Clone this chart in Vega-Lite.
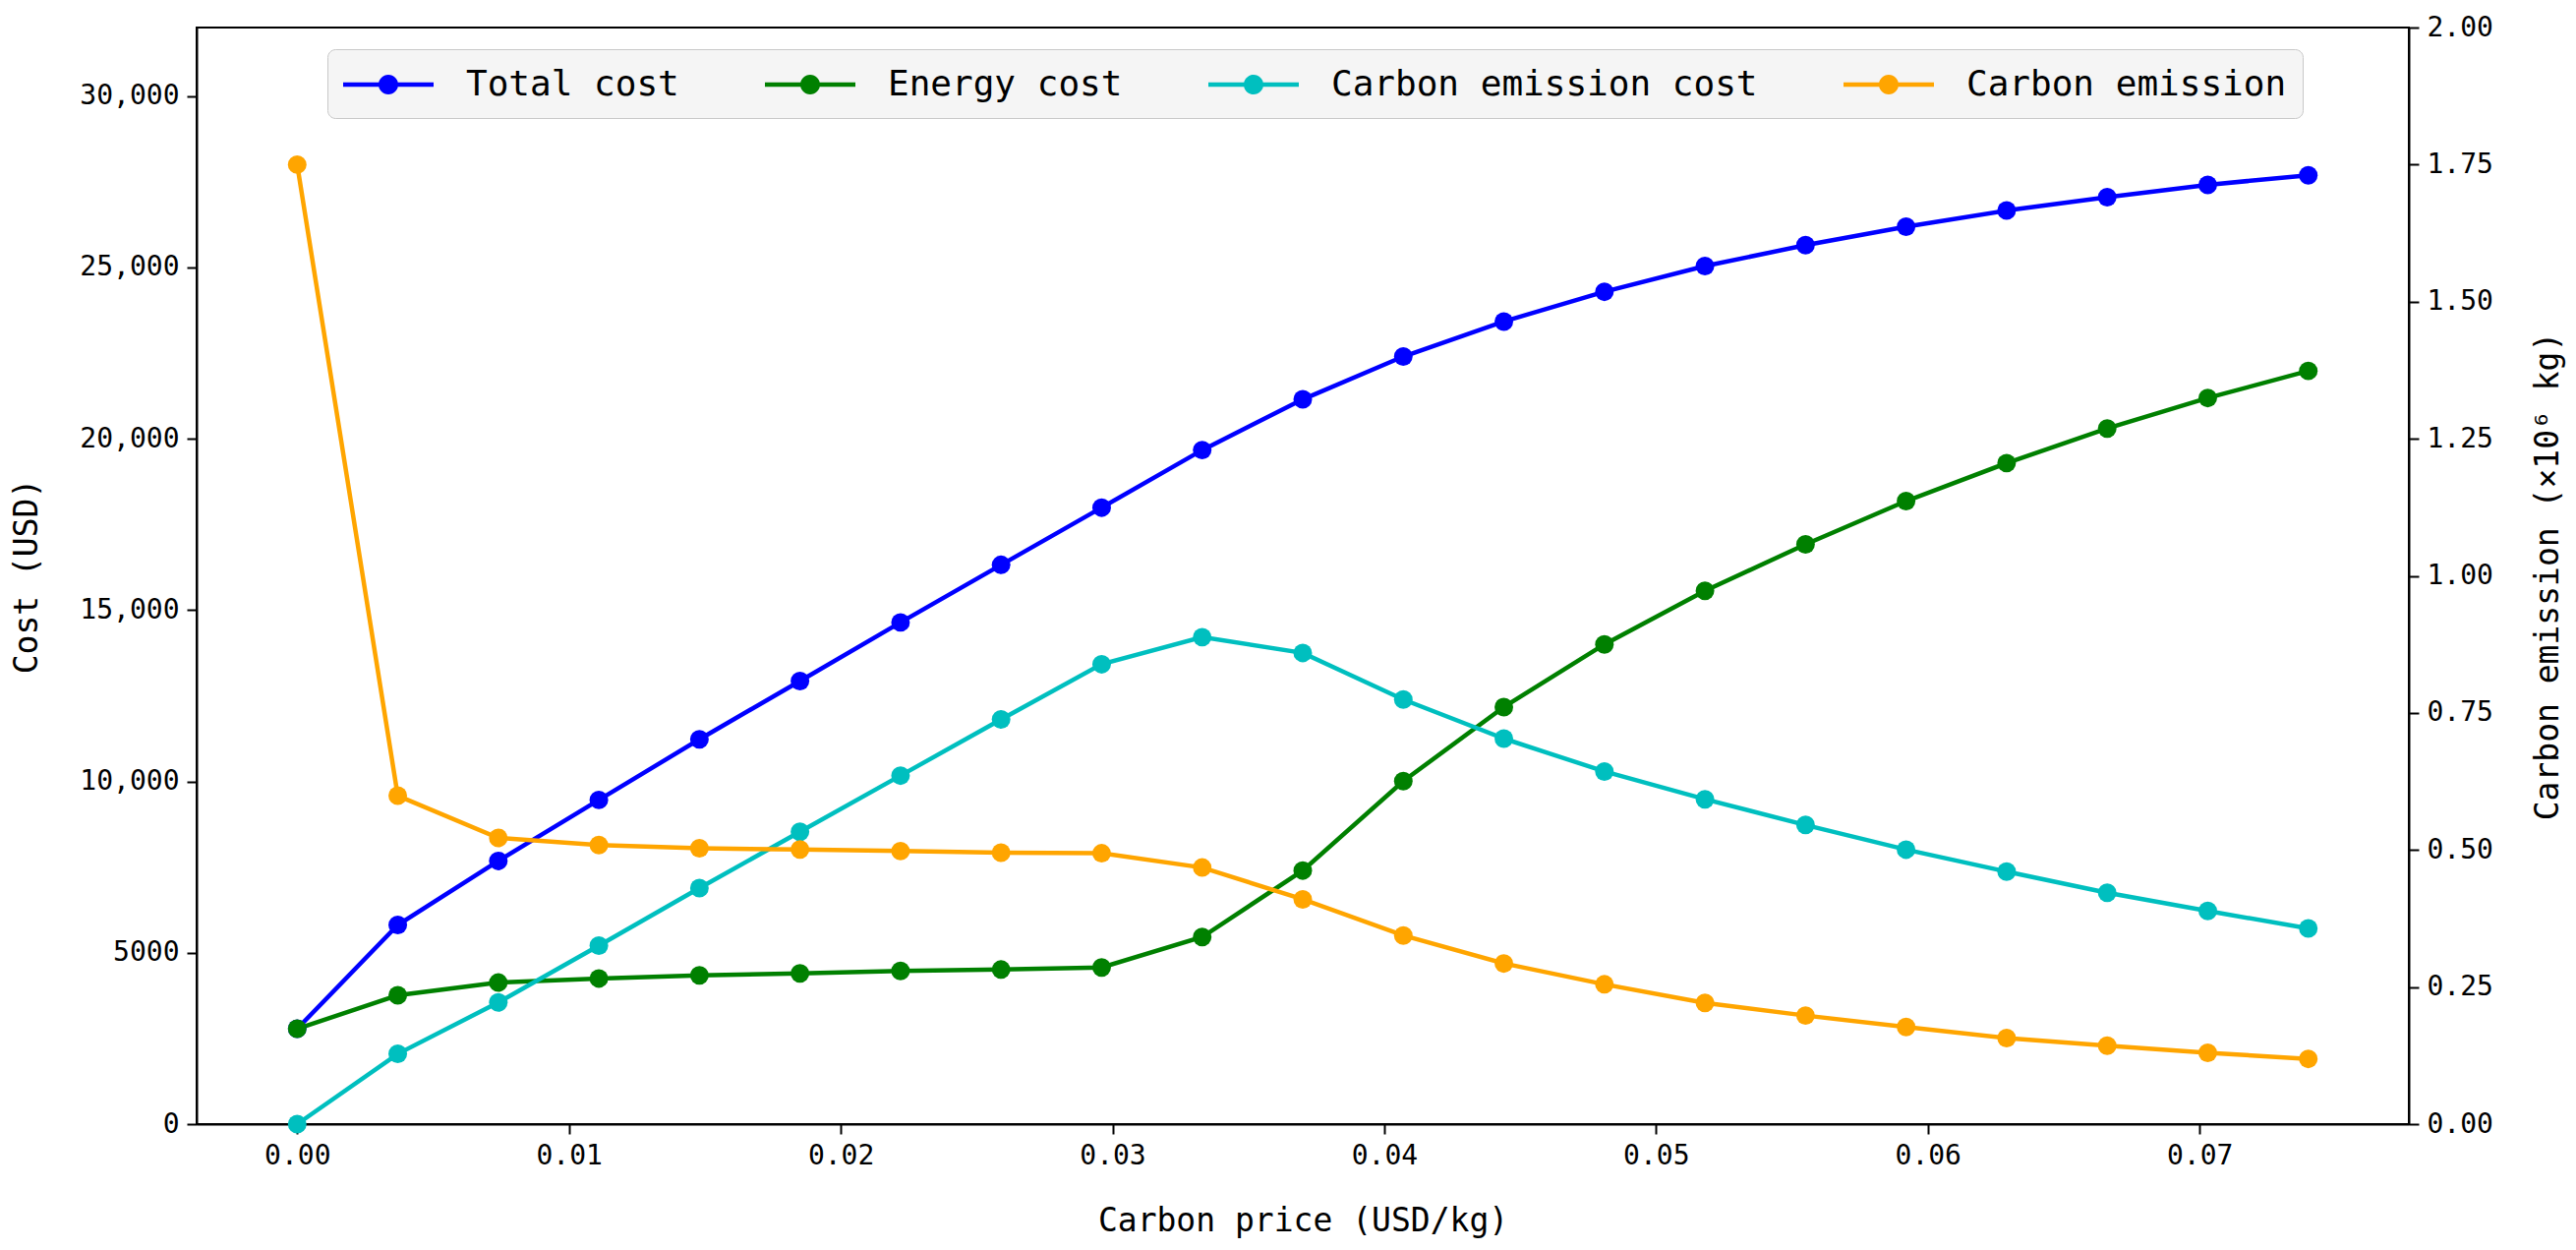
{
  "$schema": "https://vega.github.io/schema/vega-lite/v6.json",
  "autosize": {"type": "none"},
  "padding": {"left": 200, "top": 28, "right": 170, "bottom": 128},
  "width": 2250,
  "height": 1115,
  "background": "white",
  "config": {
    "view": {"stroke": "black", "strokeWidth": 2},
    "font": "DejaVu Sans Mono",
    "axis": {
      "grid": false,
      "domainColor": "black",
      "domainWidth": 2,
      "tickColor": "black",
      "tickWidth": 2,
      "tickSize": 10,
      "labelFont": "DejaVu Sans Mono",
      "labelFontSize": 28,
      "labelColor": "black",
      "labelPadding": 8,
      "titleFont": "DejaVu Sans Mono",
      "titleFontSize": 33,
      "titleFontWeight": "normal",
      "titleColor": "black"
    },
    "legend": {
      "labelFont": "DejaVu Sans Mono",
      "labelFontSize": 36,
      "labelColor": "black",
      "labelLimit": 1000
    }
  },
  "datasets": {
    "cost": [
      {"p": 0, "s": "Total cost", "v": 2783},
      {"p": 0.0037, "s": "Total cost", "v": 5810},
      {"p": 0.0074, "s": "Total cost", "v": 7680},
      {"p": 0.0111, "s": "Total cost", "v": 9460},
      {"p": 0.0148, "s": "Total cost", "v": 11230},
      {"p": 0.0185, "s": "Total cost", "v": 12930},
      {"p": 0.0222, "s": "Total cost", "v": 14640},
      {"p": 0.0259, "s": "Total cost", "v": 16320},
      {"p": 0.0296, "s": "Total cost", "v": 17990},
      {"p": 0.0333, "s": "Total cost", "v": 19670},
      {"p": 0.037, "s": "Total cost", "v": 21150},
      {"p": 0.0407, "s": "Total cost", "v": 22400},
      {"p": 0.0444, "s": "Total cost", "v": 23420},
      {"p": 0.0481, "s": "Total cost", "v": 24290},
      {"p": 0.0518, "s": "Total cost", "v": 25040},
      {"p": 0.0555, "s": "Total cost", "v": 25650},
      {"p": 0.0592, "s": "Total cost", "v": 26190},
      {"p": 0.0629, "s": "Total cost", "v": 26660},
      {"p": 0.0666, "s": "Total cost", "v": 27050},
      {"p": 0.0703, "s": "Total cost", "v": 27410},
      {"p": 0.074, "s": "Total cost", "v": 27690},
      {"p": 0, "s": "Energy cost", "v": 2783},
      {"p": 0.0037, "s": "Energy cost", "v": 3760},
      {"p": 0.0074, "s": "Energy cost", "v": 4130},
      {"p": 0.0111, "s": "Energy cost", "v": 4250},
      {"p": 0.0148, "s": "Energy cost", "v": 4340},
      {"p": 0.0185, "s": "Energy cost", "v": 4400},
      {"p": 0.0222, "s": "Energy cost", "v": 4470},
      {"p": 0.0259, "s": "Energy cost", "v": 4510},
      {"p": 0.0296, "s": "Energy cost", "v": 4570},
      {"p": 0.0333, "s": "Energy cost", "v": 5460},
      {"p": 0.037, "s": "Energy cost", "v": 7400},
      {"p": 0.0407, "s": "Energy cost", "v": 10010},
      {"p": 0.0444, "s": "Energy cost", "v": 12170},
      {"p": 0.0481, "s": "Energy cost", "v": 14000},
      {"p": 0.0518, "s": "Energy cost", "v": 15560},
      {"p": 0.0555, "s": "Energy cost", "v": 16920},
      {"p": 0.0592, "s": "Energy cost", "v": 18180},
      {"p": 0.0629, "s": "Energy cost", "v": 19290},
      {"p": 0.0666, "s": "Energy cost", "v": 20300},
      {"p": 0.0703, "s": "Energy cost", "v": 21190},
      {"p": 0.074, "s": "Energy cost", "v": 21980},
      {"p": 0, "s": "Carbon emission cost", "v": 0},
      {"p": 0.0037, "s": "Carbon emission cost", "v": 2050},
      {"p": 0.0074, "s": "Carbon emission cost", "v": 3550},
      {"p": 0.0111, "s": "Carbon emission cost", "v": 5210},
      {"p": 0.0148, "s": "Carbon emission cost", "v": 6890},
      {"p": 0.0185, "s": "Carbon emission cost", "v": 8530},
      {"p": 0.0222, "s": "Carbon emission cost", "v": 10170},
      {"p": 0.0259, "s": "Carbon emission cost", "v": 11810},
      {"p": 0.0296, "s": "Carbon emission cost", "v": 13420},
      {"p": 0.0333, "s": "Carbon emission cost", "v": 14210},
      {"p": 0.037, "s": "Carbon emission cost", "v": 13750},
      {"p": 0.0407, "s": "Carbon emission cost", "v": 12390},
      {"p": 0.0444, "s": "Carbon emission cost", "v": 11250},
      {"p": 0.0481, "s": "Carbon emission cost", "v": 10290},
      {"p": 0.0518, "s": "Carbon emission cost", "v": 9480},
      {"p": 0.0555, "s": "Carbon emission cost", "v": 8730},
      {"p": 0.0592, "s": "Carbon emission cost", "v": 8010},
      {"p": 0.0629, "s": "Carbon emission cost", "v": 7370},
      {"p": 0.0666, "s": "Carbon emission cost", "v": 6750},
      {"p": 0.0703, "s": "Carbon emission cost", "v": 6220},
      {"p": 0.074, "s": "Carbon emission cost", "v": 5710}
    ],
    "emission": [
      {"p": 0, "s": "Carbon emission", "v": 1.75},
      {"p": 0.0037, "s": "Carbon emission", "v": 0.599},
      {"p": 0.0074, "s": "Carbon emission", "v": 0.522},
      {"p": 0.0111, "s": "Carbon emission", "v": 0.509},
      {"p": 0.0148, "s": "Carbon emission", "v": 0.503},
      {"p": 0.0185, "s": "Carbon emission", "v": 0.501},
      {"p": 0.0222, "s": "Carbon emission", "v": 0.498},
      {"p": 0.0259, "s": "Carbon emission", "v": 0.495},
      {"p": 0.0296, "s": "Carbon emission", "v": 0.494},
      {"p": 0.0333, "s": "Carbon emission", "v": 0.468},
      {"p": 0.037, "s": "Carbon emission", "v": 0.41},
      {"p": 0.0407, "s": "Carbon emission", "v": 0.344},
      {"p": 0.0444, "s": "Carbon emission", "v": 0.293},
      {"p": 0.0481, "s": "Carbon emission", "v": 0.255},
      {"p": 0.0518, "s": "Carbon emission", "v": 0.221},
      {"p": 0.0555, "s": "Carbon emission", "v": 0.198},
      {"p": 0.0592, "s": "Carbon emission", "v": 0.177},
      {"p": 0.0629, "s": "Carbon emission", "v": 0.157},
      {"p": 0.0666, "s": "Carbon emission", "v": 0.143},
      {"p": 0.0703, "s": "Carbon emission", "v": 0.13},
      {"p": 0.074, "s": "Carbon emission", "v": 0.119}
    ]
  },
  "encoding": {
    "x": {
      "field": "p",
      "type": "quantitative",
      "title": "Carbon price (USD/kg)",
      "scale": {"domain": [-0.0037, 0.0777], "nice": false, "zero": false},
      "axis": {
        "values": [0, 0.01, 0.02, 0.03, 0.04, 0.05, 0.06, 0.07],
        "format": ".2f",
        "titlePadding": 36
      }
    },
    "color": {
      "field": "s",
      "type": "nominal",
      "scale": {
        "domain": ["Total cost", "Energy cost", "Carbon emission cost", "Carbon emission"],
        "range": ["#0000ff", "#008000", "#00bfbf", "#ffa500"]
      },
      "legend": {
        "title": null,
        "orient": "none",
        "legendX": 133,
        "legendY": 22,
        "direction": "horizontal",
        "columnPadding": 87,
        "labelOffset": 59,
        "symbolOffset": 26,
        "padding": 16,
        "fillColor": "#f5f5f5",
        "strokeColor": "#c8c8c8",
        "cornerRadius": 8,
        "symbolSize": 1600,
        "symbolType": "M-2.3,-0.11L2.3,-0.11L2.3,0.11L-2.3,0.11Z M-0.5,0A0.5,0.5 0 1,1 0.5,0A0.5,0.5 0 1,1 -0.5,0Z",
        "symbolStrokeWidth": 0,
        "encode": {
          "symbols": {
            "update": {
              "fill": {"scale": "color", "field": "value"},
              "fillOpacity": {"value": 1},
              "strokeWidth": {"value": 0}
            }
          }
        }
      }
    }
  },
  "layer": [
    {
      "data": {"name": "cost"},
      "encoding": {
        "y": {
          "field": "v",
          "type": "quantitative",
          "title": "Cost (USD)",
          "scale": {"domain": [0, 32000], "nice": false},
          "axis": {
            "values": [0, 5000, 10000, 15000, 20000, 25000, 30000],
            "labelExpr": "datum.value >= 10000 ? format(datum.value, ',') : format(datum.value, 'd')",
            "titlePadding": 36
          }
        }
      },
      "layer": [
        {"mark": {"type": "line", "strokeWidth": 4.5}},
        {"mark": {"type": "point", "filled": true, "opacity": 1, "size": 360}}
      ]
    },
    {
      "data": {"name": "emission"},
      "encoding": {
        "y": {
          "field": "v",
          "type": "quantitative",
          "title": "Carbon emission (×10⁶ kg)",
          "scale": {"domain": [0, 2], "nice": false},
          "axis": {
            "orient": "right",
            "values": [0, 0.25, 0.5, 0.75, 1, 1.25, 1.5, 1.75, 2],
            "format": ".2f",
            "titleAngle": 270,
            "titleBaseline": "top",
            "titlePadding": 40
          }
        }
      },
      "layer": [
        {"mark": {"type": "line", "strokeWidth": 4.5}},
        {"mark": {"type": "point", "filled": true, "opacity": 1, "size": 360}}
      ]
    }
  ],
  "resolve": {"scale": {"y": "independent"}, "axis": {"y": "independent"}}
}
